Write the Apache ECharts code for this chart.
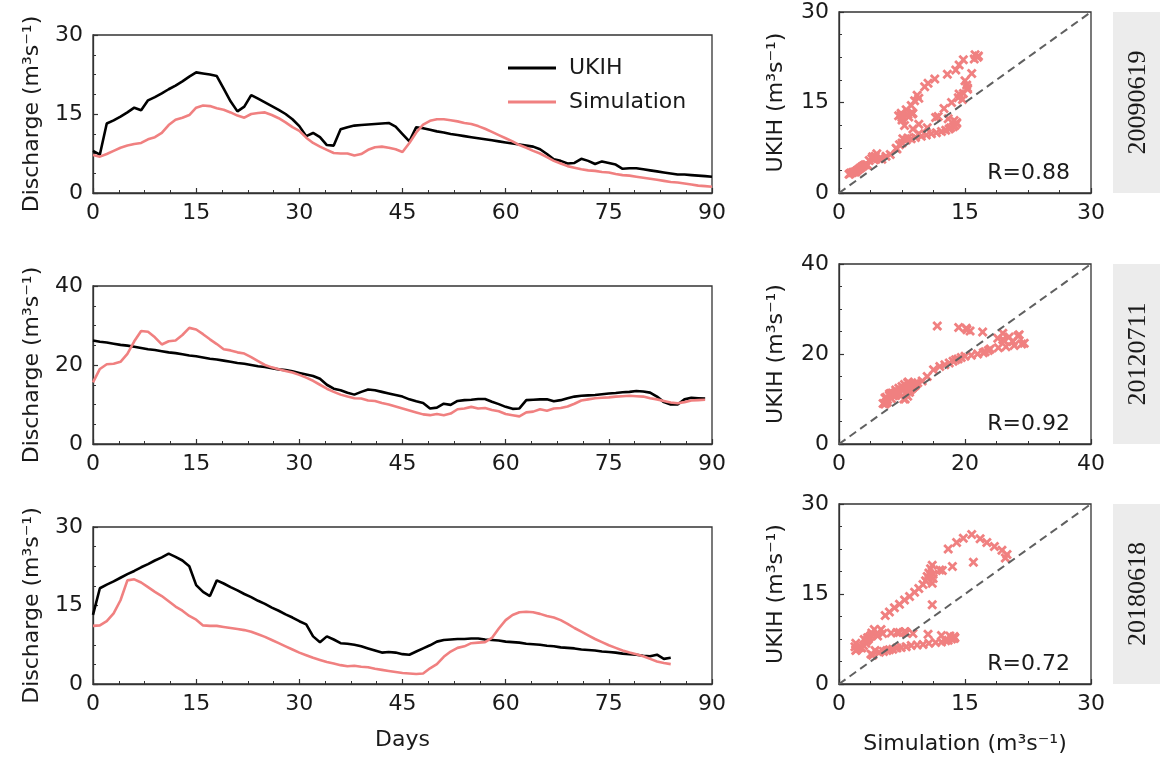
<!DOCTYPE html>
<html>
<head>
<meta charset="utf-8">
<script src="https://cdn.jsdelivr.net/npm/echarts@6/dist/echarts.min.js"></script>
<style>html,body{margin:0;padding:0;background:#fff;}#c{width:1160px;height:757px;}</style>
</head>
<body>
<div id="c"></div>
<script>
// ---- data ----
const eventLabels = ['20090619', '20120711', '20180618'];
const rValues = ['0.88', '0.92', '0.72'];
const tsYMax = [30, 40, 30];
const scMax = [30, 40, 30];
const dayTicks = [0, 15, 30, 45, 60, 75, 90];

const ukih1 = [8.0,7.3,13.2,13.8,14.5,15.3,16.2,15.7,17.6,18.2,
  18.9,19.7,20.4,21.2,22.1,22.9,22.7,22.5,22.2,19.8,
  17.4,15.5,16.4,18.6,17.9,17.2,16.5,15.8,15.0,14.0,
  12.7,10.8,11.4,10.6,9.1,9.0,12.1,12.5,12.8,12.9,
  13.0,13.1,13.2,13.3,12.6,11.2,9.8,12.5,12.3,12.0,
  11.7,11.5,11.2,11.0,10.8,10.6,10.4,10.2,10.0,9.8,
  9.6,9.4,9.2,9.0,8.8,8.3,7.4,6.4,6.1,5.6,
  5.7,6.5,6.1,5.5,6.0,5.7,5.4,4.6,4.7,4.7,
  4.5,4.3,4.1,3.9,3.7,3.5,3.5,3.4,3.3,3.2,3.1];
const sim1 = [7.2,6.9,7.4,8.0,8.6,9.0,9.3,9.5,10.2,10.6,
  11.4,12.9,13.9,14.3,14.8,16.2,16.6,16.5,16.1,15.8,
  15.3,14.7,14.3,15.0,15.2,15.3,14.8,14.2,13.4,12.5,
  11.8,10.5,9.5,8.8,8.2,7.6,7.5,7.5,7.1,7.4,
  8.2,8.7,8.8,8.6,8.3,7.8,9.5,11.5,13.0,13.7,
  14.0,14.0,13.8,13.6,13.3,13.1,12.7,12.2,11.6,11.0,
  10.4,9.8,9.1,8.6,8.0,7.5,6.8,6.1,5.6,5.1,
  4.8,4.5,4.3,4.2,4.0,3.9,3.6,3.4,3.3,3.1,
  2.9,2.7,2.5,2.3,2.1,2.0,1.8,1.6,1.4,1.3,1.2];

const ukih2 = [26.2,25.9,25.7,25.4,25.1,24.9,24.6,24.3,24.0,23.8,
  23.5,23.2,23.0,22.7,22.4,22.2,21.9,21.6,21.4,21.1,
  20.8,20.5,20.3,20.0,19.7,19.5,19.2,18.9,18.7,18.4,
  18.0,17.6,17.2,16.5,15.0,14.0,13.6,13.0,12.5,13.2,
  13.8,13.6,13.2,12.8,12.4,12.0,11.3,10.8,10.4,9.0,
  9.2,10.2,9.9,10.9,11.1,11.2,11.4,11.4,10.7,10.1,
  9.4,8.9,9.0,11.1,11.2,11.3,11.3,10.8,11.1,11.6,
  12.0,12.2,12.3,12.4,12.6,12.8,12.9,13.1,13.2,13.4,
  13.3,13.0,12.0,10.6,10.0,10.0,11.3,11.7,11.6,11.5];
const sim2 = [15.6,19.0,20.2,20.3,20.8,22.8,26.0,28.6,28.4,27.0,
  25.2,26.0,26.2,27.6,29.4,29.0,27.8,26.5,25.3,24.0,
  23.7,23.2,22.9,22.0,21.0,20.0,19.4,18.9,18.5,18.1,
  17.5,16.8,16.0,15.0,14.0,13.2,12.5,12.0,11.6,11.5,
  11.0,10.9,10.4,10.0,9.5,9.0,8.5,8.0,7.5,7.3,
  7.6,7.3,7.7,8.8,9.0,9.4,9.0,9.1,8.6,8.3,
  7.6,7.3,7.0,8.0,8.2,8.8,8.4,9.0,9.1,9.5,
  10.2,11.0,11.3,11.6,11.7,11.8,12.0,12.1,12.2,12.1,
  12.0,11.6,11.3,10.9,10.5,10.3,10.6,11.0,11.1,11.2];

const ukih3 = [13.2,18.3,19.0,19.6,20.3,21.0,21.6,22.3,22.9,23.6,
  24.2,24.9,24.3,23.6,22.5,18.9,17.6,16.8,19.8,19.2,
  18.5,17.9,17.2,16.6,15.9,15.3,14.6,14.0,13.3,12.7,
  12.0,11.4,9.1,8.0,9.1,8.5,7.8,7.7,7.5,7.2,
  6.8,6.4,6.0,6.1,6.0,5.7,5.6,6.2,6.8,7.4,
  8.1,8.4,8.5,8.6,8.6,8.7,8.7,8.5,8.4,8.3,
  8.1,8.0,7.9,7.7,7.6,7.5,7.3,7.2,7.0,6.9,
  6.8,6.6,6.5,6.4,6.2,6.1,6.0,5.8,5.7,5.6,
  5.4,5.3,5.6,4.8,5.0];
const sim3 = [11.1,11.2,12.0,13.5,16.0,19.8,20.0,19.4,18.5,17.6,
  16.8,15.8,14.8,14.0,13.0,12.3,11.2,11.1,11.1,10.9,
  10.7,10.5,10.3,10.0,9.5,9.0,8.4,7.8,7.2,6.6,
  6.0,5.5,5.0,4.6,4.2,3.9,3.6,3.4,3.5,3.3,
  3.2,2.9,2.7,2.5,2.3,2.1,2.0,1.9,2.0,3.0,
  3.8,5.2,6.2,6.9,7.2,7.8,7.9,8.0,8.8,10.6,
  12.2,13.2,13.7,13.8,13.7,13.4,13.0,12.7,12.2,11.5,
  10.7,10.0,9.3,8.6,8.0,7.4,6.9,6.4,6.0,5.7,
  5.3,4.8,4.3,4.0,3.8];

const ukihSets = [ukih1, ukih2, ukih3];
const simSets = [sim1, sim2, sim3];

// ---- layout / style ----
const FONT = '"DejaVu Sans", sans-serif';
const AX = '#333';
const TXT = '#1a1a1a';
const PINK = '#F08080';
const tsGrids = [{top:35,h:158},{top:286,h:158},{top:527,h:157}];
const scGrids = [{top:12,h:181},{top:264,h:180},{top:504,h:180}];
const TS_LEFT = 93, TS_W = 619, SC_LEFT = 839, SC_W = 252;
const STRIP_X = 1113;

const xMark = 'path://M2,0 L5,3 L8,0 L10,2 L7,5 L10,8 L8,10 L5,7 L2,10 L0,8 L3,5 L0,2 Z';
const unit = ' (m\u00b3s\u207b\u00b9)';

function axisCommon() {
  return {
    axisLine: {show: true, onZero: false, lineStyle: {color: AX, width: 1.3}},
    axisTick: {show: true, inside: true, length: 5, lineStyle: {color: AX, width: 1.2}},
    minorTick: {show: true, splitNumber: 4, length: 3, lineStyle: {color: AX, width: 1}},
    axisLabel: {fontSize: 22, color: TXT, fontFamily: FONT, margin: 9},
    splitLine: {show: false},
    minorSplitLine: {show: false},
    nameTextStyle: {fontSize: 22, color: TXT, fontFamily: FONT}
  };
}

const grid = [], xAxis = [], yAxis = [], series = [], graphic = [];

for (let i = 0; i < 3; i++) {
  grid.push({left: TS_LEFT, width: TS_W, top: tsGrids[i].top, height: tsGrids[i].h,
    show: true, borderColor: AX, borderWidth: 1.3, backgroundColor: 'transparent'});
}
for (let i = 0; i < 3; i++) {
  grid.push({left: SC_LEFT, width: SC_W, top: scGrids[i].top, height: scGrids[i].h,
    show: true, borderColor: AX, borderWidth: 1.3, backgroundColor: 'transparent'});
}

for (let i = 0; i < 3; i++) {
  const xa = Object.assign(axisCommon(), {gridIndex: i, type: 'value',
    min: dayTicks[0], max: dayTicks[dayTicks.length - 1], interval: dayTicks[1] - dayTicks[0]});
  if (i === 2) { xa.name = 'Days'; xa.nameLocation = 'middle'; xa.nameGap = 45; }
  xAxis.push(xa);
  const ya = Object.assign(axisCommon(), {gridIndex: i, type: 'value', min: 0, max: tsYMax[i],
    interval: tsYMax[i] / 2, name: 'Discharge' + unit, nameLocation: 'middle', nameGap: 50});
  ya.axisLabel = Object.assign({}, ya.axisLabel, {margin: 10});
  yAxis.push(ya);
}
for (let i = 0; i < 3; i++) {
  const xa = Object.assign(axisCommon(), {gridIndex: 3 + i, type: 'value', min: 0, max: scMax[i],
    interval: scMax[i] / 2});
  if (i === 2) { xa.name = 'Simulation' + unit; xa.nameLocation = 'middle'; xa.nameGap = 49; }
  xAxis.push(xa);
  const ya = Object.assign(axisCommon(), {gridIndex: 3 + i, type: 'value', min: 0, max: scMax[i],
    interval: scMax[i] / 2, name: 'UKIH' + unit, nameLocation: 'middle', nameGap: 52});
  ya.axisLabel = Object.assign({}, ya.axisLabel, {margin: 10});
  yAxis.push(ya);
}

for (let i = 0; i < 3; i++) {
  const obs = ukihSets[i], sim = simSets[i];
  series.push({type: 'line', name: 'UKIH', xAxisIndex: i, yAxisIndex: i, showSymbol: false, symbol: 'none',
    data: obs.map((v, d) => [d, v]), lineStyle: {color: '#000', width: 2.6}, itemStyle: {color: '#000'}, z: 3});
  series.push({type: 'line', name: 'Simulation', xAxisIndex: i, yAxisIndex: i, showSymbol: false, symbol: 'none',
    data: sim.map((v, d) => [d, v]), lineStyle: {color: PINK, width: 2.6}, itemStyle: {color: PINK}, z: 4});
  const n = Math.min(obs.length, sim.length);
  const pts = [];
  for (let d = 0; d < n; d++) pts.push([sim[d], obs[d]]);
  series.push({type: 'scatter', xAxisIndex: 3 + i, yAxisIndex: 3 + i, symbol: xMark, symbolSize: 10,
    data: pts, itemStyle: {color: PINK, opacity: 1}, z: 3});
  series.push({type: 'line', xAxisIndex: 3 + i, yAxisIndex: 3 + i, symbol: 'none',
    data: [[0, 0], [scMax[i], scMax[i]]], lineStyle: {color: '#606060', width: 2, type: [8, 5]}, z: 5});

  // strip
  graphic.push({type: 'rect', shape: {x: STRIP_X, y: scGrids[i].top, width: 1160 - STRIP_X, height: scGrids[i].h},
    style: {fill: '#ececec'}, silent: true});
  graphic.push({type: 'text', x: STRIP_X + 25, y: scGrids[i].top + scGrids[i].h / 2, rotation: Math.PI / 2,
    style: {text: eventLabels[i], fill: TXT, font: '26px "Liberation Serif", serif', align: 'center', verticalAlign: 'middle'}});
  // R label
  graphic.push({type: 'text', x: SC_LEFT + SC_W - 21, y: scGrids[i].top + scGrids[i].h - 20,
    style: {text: 'R=' + rValues[i], fill: TXT, font: '22px ' + FONT, align: 'right', verticalAlign: 'middle'}, z: 10});
}

const chart = echarts.init(document.getElementById('c'), null, {renderer: 'canvas'});
chart.setOption({
  animation: false,
  backgroundColor: '#fff',
  grid, xAxis, yAxis, series, graphic,
  legend: {data: ['UKIH', 'Simulation'], orient: 'vertical', left: 503, top: 52,
    itemWidth: 48, itemHeight: 3, icon: 'rect', itemGap: 12,
    textStyle: {fontSize: 22, fontFamily: FONT, color: TXT, padding: [0, 0, 0, 8]}}
});
</script>
</body>
</html>
